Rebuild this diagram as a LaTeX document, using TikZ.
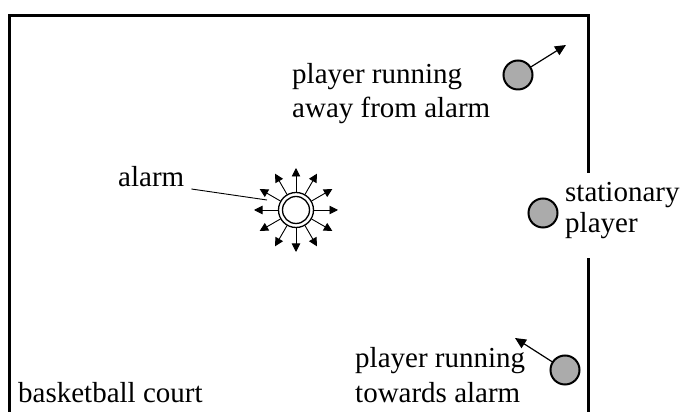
\documentclass[tikz,border=0pt]{standalone}
\usepackage{fontspec}
\setmainfont{Liberation Serif}
\usetikzlibrary{arrows.meta,calc}
\begin{document}
\begin{tikzpicture}[x=1pt,y=1pt,
  lbl/.style={anchor=base west,inner sep=0pt,font=\fontsize{29}{34}\selectfont},
  player/.style={circle,draw=black,line width=2pt,fill=black!33,minimum size=29pt,inner sep=0pt},
  move/.style={line width=1.2pt,-{Triangle[length=11pt,width=10pt]}},
  ray/.style={line width=0.9pt,-{Triangle[length=8.5pt,width=8.5pt]}}]
\useasboundingbox (0,0) rectangle (681,412);
% court
\draw[line width=3pt] (9,0) -- (9,396) -- (588,396) -- (588,0);
\fill[white] (578,154) rectangle (600,239);
% alarm
\node[circle,draw,line width=1.3pt,minimum size=35pt,inner sep=0pt] (alarm) at (296,202) {};
\node[circle,draw,line width=1.3pt,minimum size=27pt,inner sep=0pt] (alarmin) at (296,202) {};
\foreach \a in {0,30,...,330}{
  \coordinate (ray\a) at ($(296,202)+(\a:42)$);
}
\foreach \a in {0,30,...,330}{
  \draw[ray] (alarm.\a) -- (ray\a);
}
\node[lbl] (alarmlabel) at (118,225) {alarm};
\coordinate (alarmpt) at (267,212);
\draw[line width=0.9pt] ([shift={(7pt,-2pt)}]alarmlabel.base east) -- (alarmpt);
% players
\node[player] (p1) at (518,337) {};
\coordinate (p1tip) at (566,367);
\draw[move] (p1) -- (p1tip);
\node[player] (p2) at (543,199) {};
\node[player] (p3) at (565,42) {};
\coordinate (p3tip) at (515,74);
\draw[move] (p3) -- (p3tip);
% labels
\node[lbl] (t1a) at (292,328) {player running};
\node[lbl] (t1b) at (292,294) {away from alarm};
\node[lbl] (t2a) at (565,210) {stationary};
\node[lbl] (t2b) at (565,179) {player};
\node[lbl] (t3a) at (355,44) {player running};
\node[lbl] (t3b) at (355,9) {towards alarm};
\node[lbl] (court) at (18,9) {basketball court};
\end{tikzpicture}
\end{document}
